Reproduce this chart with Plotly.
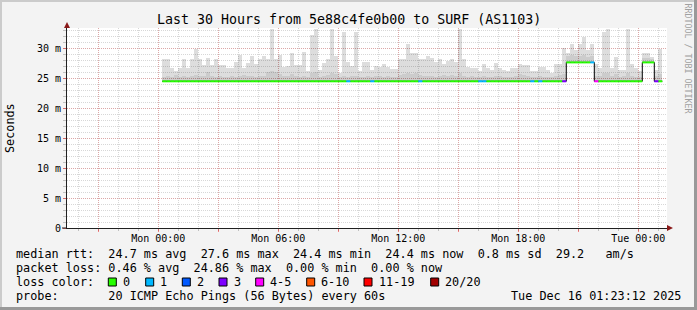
import plotly.graph_objects as go
import pandas as pd

# ---------------- data ----------------
bin_start = "2025-12-15 00:12"
bin_minutes = 12

smoke_top = [
    28.1, 28.1, 26.6, 26.1, 26.6, 28.1, 26.6, 28.1, 29.8, 28.1,
    27.2, 28.3, 27.2, 28.1, 27.1, 27.1, 26.6, 26.7, 27.7, 28.8,
    26.7, 27.5, 28.6, 27.3, 28.1, 28.6, 28.1, 33.2, 28.1, 28.8,
    26.9, 27.0, 29.1, 27.2, 27.1, 29.3, 26.1, 32.1, 33.2, 26.4,
    27.5, 28.1, 33.2, 28.7, 25.8, 32.7, 27.7, 27.0, 32.6, 26.1,
    27.7, 27.7, 26.3, 27.0, 26.8, 27.4, 26.9, 26.5, 26.5, 28.1,
    28.2, 30.6, 29.1, 29.1, 28.2, 28.1, 28.6, 28.4, 27.7, 28.2,
    27.3, 27.8, 28.1, 27.7, 33.2, 28.1, 26.9, 26.7, 26.7, 26.2,
    27.3, 26.6, 26.4, 27.5, 26.7, 26.3, 26.1, 26.6, 26.7, 27.3,
    27.2, 27.2, 26.1, 26.2, 26.9, 26.9, 26.3, 25.9, 27.4, 27.3,
    30.0, 29.1, 30.7, 29.6, 30.6, 31.8, 29.6, 30.7, 27.3, 26.6,
    32.6, 33.2, 26.6, 28.5, 26.4, 26.3, 33.2, 27.4, 26.6, 26.1,
    29.1, 29.1, 28.5, 26.3, 29.8,
]

smoke_dark = [
    25.2, 25.3, 25.2, 25.5, 25.2, 25.3, 25.2, 25.4, 25.5, 25.3,
    25.3, 26.0, 25.3, 25.2, 25.3, 25.2, 25.2, 25.3, 25.2, 25.4,
    25.5, 25.4, 25.3, 25.2, 25.3, 25.4, 26.0, 26.1, 26.0, 25.6,
    25.3, 25.3, 25.6, 25.3, 25.2, 25.3, 25.2, 25.9, 26.0, 25.2,
    25.3, 25.5, 25.9, 25.7, 25.1, 25.3, 25.2, 25.3, 25.4, 25.1,
    25.2, 25.3, 25.2, 25.3, 25.4, 25.2, 25.3, 25.2, 25.2, 25.5,
    25.6, 25.8, 25.7, 25.9, 25.5, 25.3, 25.4, 25.3, 25.2, 25.3,
    25.5, 25.4, 25.5, 25.3, 25.8, 25.4, 25.2, 25.3, 25.2, 25.1,
    25.3, 25.2, 25.2, 25.4, 25.3, 25.2, 25.1, 25.2, 25.3, 25.6,
    25.5, 25.3, 25.1, 25.2, 25.3, 25.2, 25.2, 25.1, 25.4, 25.5,
    25.6, 28.6, 28.8, 28.6, 28.7, 28.9, 28.5, 28.6, 25.4, 25.3,
    25.8, 25.9, 25.3, 25.6, 25.2, 25.3, 25.9, 25.3, 25.2, 25.1,
    28.3, 28.4, 28.2, 25.3, 25.6,
]

smoke_min = [
    24.3, 24.3, 24.3, 24.3, 24.3, 24.3, 24.3, 24.3, 24.3, 24.3,
    24.3, 24.3, 24.3, 24.3, 24.3, 24.3, 24.3, 24.3, 24.3, 24.3,
    24.3, 24.3, 24.3, 24.3, 24.3, 24.3, 24.3, 24.3, 24.3, 24.3,
    24.3, 24.3, 24.3, 24.3, 24.3, 24.3, 24.3, 24.3, 24.3, 24.3,
    24.3, 24.3, 24.3, 24.3, 24.3, 24.3, 24.3, 24.3, 24.3, 24.3,
    24.3, 24.3, 24.3, 24.3, 24.3, 24.3, 24.3, 24.3, 24.3, 24.3,
    24.3, 24.3, 24.3, 24.3, 24.3, 24.3, 24.3, 24.3, 24.3, 24.3,
    24.3, 24.3, 24.3, 24.3, 24.3, 24.3, 24.3, 24.3, 24.3, 24.3,
    24.3, 24.3, 24.3, 24.3, 24.3, 24.3, 24.3, 24.3, 24.3, 24.3,
    24.3, 24.3, 24.3, 24.3, 24.3, 24.3, 24.3, 24.3, 24.3, 24.3,
    24.3, 27.5, 27.5, 27.5, 27.5, 27.5, 27.5, 27.5, 24.3, 24.3,
    24.3, 24.3, 24.3, 24.3, 24.3, 24.3, 24.3, 24.3, 24.3, 24.3,
    27.5, 27.5, 27.5, 24.3, 24.3,
]

median_rtt = [
    24.45, 24.45, 24.45, 24.45, 24.45, 24.45, 24.45, 24.45, 24.45, 24.45,
    24.45, 24.45, 24.45, 24.45, 24.45, 24.45, 24.45, 24.45, 24.45, 24.45,
    24.45, 24.45, 24.45, 24.45, 24.45, 24.45, 24.45, 24.45, 24.45, 24.45,
    24.45, 24.45, 24.45, 24.45, 24.45, 24.45, 24.45, 24.45, 24.45, 24.45,
    24.45, 24.45, 24.45, 24.45, 24.45, 24.45, 24.45, 24.45, 24.45, 24.45,
    24.45, 24.45, 24.45, 24.45, 24.45, 24.45, 24.45, 24.45, 24.45, 24.45,
    24.45, 24.45, 24.45, 24.45, 24.45, 24.45, 24.45, 24.45, 24.45, 24.45,
    24.45, 24.45, 24.45, 24.45, 24.45, 24.45, 24.45, 24.45, 24.45, 24.45,
    24.45, 24.45, 24.45, 24.45, 24.45, 24.45, 24.45, 24.45, 24.45, 24.45,
    24.45, 24.45, 24.45, 24.45, 24.45, 24.45, 24.45, 24.45, 24.45, 24.45,
    24.45, 27.6, 27.6, 27.6, 27.6, 27.6, 27.6, 27.6, 24.45, 24.45,
    24.45, 24.45, 24.45, 24.45, 24.45, 24.45, 24.45, 24.45, 24.45, 24.45,
    27.6, 27.6, 27.6, 24.45, 24.45,
]

loss_count = [
    0, 0, 0, 0, 0, 0, 0, 0, 0, 0,
    0, 0, 0, 0, 0, 0, 0, 0, 0, 0,
    0, 0, 0, 0, 0, 0, 0, 0, 0, 0,
    0, 0, 0, 0, 0, 0, 0, 0, 0, 0,
    0, 0, 0, 0, 0, 0, 1, 0, 0, 0,
    0, 0, 1, 0, 0, 0, 0, 0, 0, 0,
    0, 0, 0, 0, 1, 0, 0, 0, 0, 0,
    0, 0, 0, 0, 0, 0, 0, 0, 0, 1,
    1, 0, 0, 0, 0, 0, 0, 0, 0, 0,
    0, 0, 1, 0, 1, 0, 0, 0, 0, 0,
    3, 0, 0, 0, 0, 0, 0, 1, 5, 0,
    0, 0, 0, 0, 0, 0, 0, 0, 0, 0,
    0, 0, 0, 3, 0,
]

loss_labels = ["0", "1", "2", "3", "4-5", "6-10", "11-19", "20/20"]
loss_colors = ["#26ff00", "#00b8ff", "#0059ff", "#7e00ff", "#ff00ff", "#ff5500", "#ff0000", "#a10000"]
loss_upper = [0, 1, 2, 3, 5, 10, 19, 20]

y_tickvals = [0, 5, 10, 15, 20, 25, 30]
y_ticktext = ["0", "5 m", "10 m", "15 m", "20 m", "25 m", "30 m"]

x_major_ticks = ["2025-12-14 21:00", "2025-12-15 00:00", "2025-12-15 03:00", "2025-12-15 06:00",
                 "2025-12-15 09:00", "2025-12-15 12:00", "2025-12-15 15:00", "2025-12-15 18:00",
                 "2025-12-15 21:00", "2025-12-16 00:00"]
x_major_text = ["", "Mon 00:00", "", "Mon 06:00", "", "Mon 12:00", "", "Mon 18:00", "", "Tue 00:00"]
x_range = ["2025-12-14 19:26:06", "2025-12-16 01:26:06"]

title_text = "Last 30 Hours from 5e88c4fe0b00 to SURF (AS1103)"
legend_lines = [
    "median rtt:  24.7 ms avg  27.6 ms max  24.4 ms min  24.4 ms now  0.8 ms sd  29.2   am/s",
    "packet loss: 0.46 % avg  24.86 % max  0.00 % min  0.00 % now",
    "loss color:",
    "probe:       20 ICMP Echo Pings (56 Bytes) every 60s",
]
stamp_text = "Tue Dec 16 01:23:12 2025"
side_text = "RRDTOOL / TOBI OETIKER"

# ---------------- figure ----------------
W, H = 697, 310
L, R, T, B = 67, 30, 28, 82
PW, PH = W - L - R, H - T - B
MONO = "DejaVu Sans Mono"

def px(x):
    return (x - L) / PW

def py(y):
    return (T + PH - y) / PH

n = len(smoke_top)
starts = pd.date_range(bin_start, periods=n, freq=f"{bin_minutes}min")
ends = starts + pd.Timedelta(minutes=bin_minutes)
width_ms = bin_minutes * 60 * 1000

fig = go.Figure()

fig.add_trace(go.Bar(
    x=starts, y=[t - m for t, m in zip(smoke_top, smoke_min)], base=smoke_min,
    width=width_ms, offset=0, marker=dict(color="rgba(0,0,0,0.135)", line=dict(width=0)),
    hoverinfo="skip", showlegend=False))
fig.add_trace(go.Bar(
    x=starts, y=[t - m for t, m in zip(smoke_dark, smoke_min)], base=smoke_min,
    width=width_ms, offset=0, marker=dict(color="rgba(0,0,0,0.075)", line=dict(width=0)),
    hoverinfo="skip", showlegend=False))

fig.add_trace(go.Scatter(
    x=list(starts) + [ends[-1]], y=median_rtt + [median_rtt[-1]],
    mode="lines", line=dict(color="#000000", width=1, shape="hv"),
    hoverinfo="skip", showlegend=False))

def loss_bucket(c):
    for i, u in enumerate(loss_upper):
        if c <= u:
            return i
    return len(loss_upper) - 1

for bi, col in enumerate(loss_colors):
    xs, ys = [], []
    for i in range(n):
        if loss_bucket(loss_count[i]) == bi:
            xs += [starts[i], ends[i], None]
            ys += [median_rtt[i], median_rtt[i], None]
    if xs:
        fig.add_trace(go.Scatter(x=xs, y=ys, mode="lines",
                                 line=dict(color=col, width=2),
                                 hoverinfo="skip", showlegend=False))

GRID = "rgba(130,130,130,0.32)"
MGRID = "rgba(240,0,0,0.22)"

fig.update_layout(
    width=W, height=H,
    margin=dict(l=L, r=R, t=T, b=B, pad=0),
    paper_bgcolor="#f3f3f3", plot_bgcolor="#ffffff",
    barmode="overlay", bargap=0,
    font=dict(family=MONO, size=10, color="#000"),
    xaxis=dict(
        type="date", range=x_range,
        tickmode="array", tickvals=x_major_ticks, ticktext=x_major_text,
        showgrid=True, gridcolor=MGRID, griddash="1px,1px", gridwidth=1,
        ticks="outside", ticklen=3, tickcolor="rgba(240,0,0,0.45)",
        ticklabelstandoff=-2,
        tickfont=dict(family=MONO, size=10, color="#000"),
        minor=dict(dtick=3600000, tick0="2025-12-15 00:00", showgrid=True,
                   gridcolor=GRID, griddash="1px,1px", ticks="outside",
                   ticklen=2, tickcolor="rgba(130,130,130,0.45)"),
        showline=True, linecolor="#202020", linewidth=1,
        zeroline=False, fixedrange=True,
    ),
    yaxis=dict(
        range=[0, 33.333],
        tickmode="array", tickvals=y_tickvals, ticktext=y_ticktext,
        showgrid=True, gridcolor=MGRID, griddash="1px,1px", gridwidth=1,
        ticks="outside", ticklen=3, tickcolor="rgba(240,0,0,0.45)",
        tickfont=dict(family=MONO, size=10, color="#000"),
        minor=dict(dtick=1, tick0=0, showgrid=True, gridcolor=GRID,
                   griddash="1px,1px", ticks="outside", ticklen=3,
                   tickcolor="rgba(130,130,130,0.45)"),
        showline=True, linecolor="#202020", linewidth=1,
        zeroline=False, fixedrange=True,
    ),
)

annotations = []

def ann(text, x, y, size=11.8, xanchor="left", color="#000", angle=0):
    annotations.append(dict(
        text=text.replace(" ", "\u00a0"), x=px(x), y=py(y), xref="paper", yref="paper",
        xanchor=xanchor, yanchor="middle", showarrow=False, textangle=angle,
        borderpad=0, borderwidth=0,
        font=dict(family=MONO, size=size, color=color)))

ann(title_text, 348.5, 19, size=13.3, xanchor="center")
ann("Seconds", 10, 128, size=11.8, xanchor="center", angle=-90)
ann(side_text, 687, 58.5, size=8.3, xanchor="center", color="#a0a0a0", angle=90)

line_y = [254.4, 268.2, 282.0, 295.8]
ann(legend_lines[0], 16, line_y[0])
ann(legend_lines[1], 16, line_y[1])
ann(legend_lines[2], 16, line_y[2])
ann(legend_lines[3], 16, line_y[3])
ann(stamp_text, 681, line_y[3], xanchor="right")

box_x = [108.3, 145.7, 182.3, 219.0, 255.7, 306.7, 364.0, 430.7]
shapes = []
for bx, lab, col in zip(box_x, loss_labels, loss_colors):
    shapes.append(dict(type="rect", xref="paper", yref="paper",
                       x0=px(bx), x1=px(bx + 8), y0=py(line_y[2] + 4), y1=py(line_y[2] - 4),
                       fillcolor=col, line=dict(color="#000", width=1)))
    ann(lab, bx + 14.5, line_y[2])

shapes.append(dict(type="path", xref="paper", yref="paper",
                   path=f"M {px(64)} {py(28)} L {px(70)} {py(28)} L {px(67)} {py(22)} Z",
                   fillcolor="#8b1a1a", line=dict(width=0)))
shapes.append(dict(type="path", xref="paper", yref="paper",
                   path=f"M {px(667)} {py(225)} L {px(667)} {py(231)} L {px(673)} {py(228)} Z",
                   fillcolor="#8b1a1a", line=dict(width=0)))
shapes.append(dict(type="line", xref="paper", yref="paper",
                   x0=px(62), x1=px(67), y0=py(228), y1=py(228),
                   line=dict(color="#202020", width=1)))

shapes.append(dict(type="rect", xref="paper", yref="paper", x0=px(0), x1=px(697), y0=py(0), y1=py(2),
                   fillcolor="#cbcbcb", line=dict(width=0), layer="below"))
shapes.append(dict(type="rect", xref="paper", yref="paper", x0=px(0), x1=px(2), y0=py(0), y1=py(310),
                   fillcolor="#cbcbcb", line=dict(width=0), layer="below"))
shapes.append(dict(type="rect", xref="paper", yref="paper", x0=px(694), x1=px(697), y0=py(0), y1=py(310),
                   fillcolor="#999999", line=dict(width=0)))
shapes.append(dict(type="rect", xref="paper", yref="paper", x0=px(0), x1=px(697), y0=py(307), y1=py(310),
                   fillcolor="#999999", line=dict(width=0)))

fig.update_layout(annotations=annotations, shapes=shapes)

fig.write_html("out.html", config={"displayModeBar": False})
